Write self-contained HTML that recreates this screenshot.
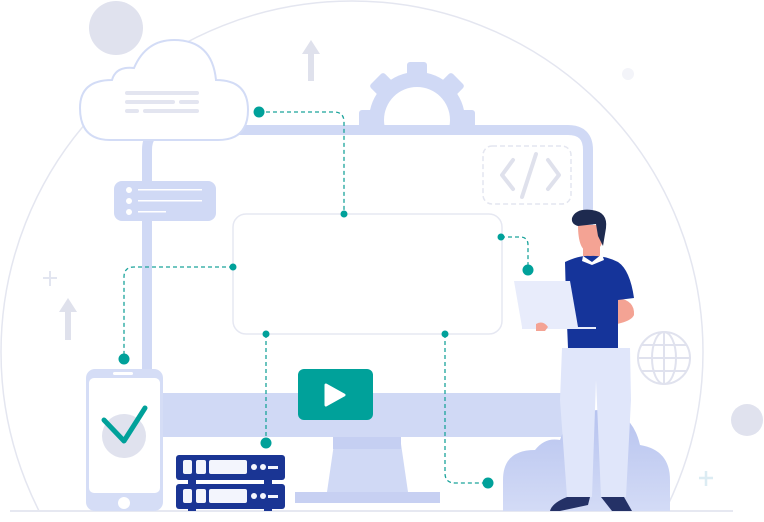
<!DOCTYPE html>
<html><head><meta charset="utf-8"><style>html,body{margin:0;padding:0;background:#fff;width:764px;height:522px;overflow:hidden}svg{display:block}</style></head>
<body>
<svg width="764" height="522" viewBox="0 0 764 522" xmlns="http://www.w3.org/2000/svg">
<defs>
<clipPath id="c"><rect x="0" y="0" width="764" height="511"/></clipPath>
<clipPath id="g"><rect x="340" y="40" width="160" height="87"/></clipPath>
<linearGradient id="cg" x1="0" y1="0" x2="0" y2="1"><stop offset="0" stop-color="#b7c3ef"/><stop offset="1" stop-color="#d3dbf6"/></linearGradient>
</defs>
<circle cx="352" cy="352" r="351" fill="none" stroke="#e4e6f0" stroke-width="1.5" clip-path="url(#c)"/>
<line x1="10" y1="511" x2="733" y2="511" stroke="#e6e8f1" stroke-width="2"/>
<circle cx="116" cy="28" r="27" fill="#e0e2ee"/>
<circle cx="747" cy="420" r="16" fill="#e0e2ee"/>
<circle cx="628" cy="74" r="6" fill="#f3f4f9"/>
<path d="M311 40 L320 54 L314 54 L314 81 L308 81 L308 54 L302 54Z" fill="#dfe1ec"/>
<path d="M68 298 L77 312 L71 312 L71 340 L65 340 L65 312 L59 312Z" fill="#dfe1ec"/>
<path d="M50 271 V286 M43 278 H57" stroke="#e2e5f0" stroke-width="2"/>
<path d="M706 471 V486 M699 478 H713" stroke="#dcecf3" stroke-width="2.5"/>
<!-- gear -->
<g clip-path="url(#g)">
<g fill="#d0d9f5">
<circle cx="417" cy="120" r="48"/>
<rect x="407" y="62" width="20" height="16" rx="3"/>
<rect x="407" y="62" width="20" height="16" rx="3" transform="rotate(-45 417 120)"/>
<rect x="407" y="62" width="20" height="16" rx="3" transform="rotate(45 417 120)"/>
<rect x="407" y="62" width="20" height="16" rx="3" transform="rotate(-90 417 120)"/>
<rect x="407" y="62" width="20" height="16" rx="3" transform="rotate(90 417 120)"/>
</g>
<circle cx="417" cy="120" r="33" fill="#fff"/>
</g>
<!-- monitor frame -->
<path d="M147 175 V150 Q147 130 167 130 H568 Q588 130 588 150 V400" fill="none" stroke="#d0d9f5" stroke-width="10"/>
<rect x="142" y="150" width="10" height="225" fill="#d0d9f5"/>
<rect x="160" y="393" width="433" height="44" fill="#d0d9f5"/>
<path d="M335 437 H400 L408 492 H327Z" fill="#d0d9f5"/>
<rect x="333" y="437" width="68" height="12" fill="#c5cff2"/>
<rect x="295" y="492" width="145" height="11" fill="#c7d0f2"/>
<!-- screen box -->
<rect x="233" y="214" width="269" height="120" rx="13" fill="#fff" stroke="#e6e8f2" stroke-width="1.5"/>
<!-- code box -->
<rect x="483" y="146" width="88" height="58" rx="9" fill="none" stroke="#e4e6f0" stroke-width="1.5" stroke-dasharray="5 3"/>
<path d="M513 160 L502 175 L513 189 M548 160 L559 175 L548 189 M536 154 L522 197" fill="none" stroke="#dfe1ec" stroke-width="4" stroke-linecap="round" stroke-linejoin="round"/>
<!-- cloud top -->
<path d="M110 140 Q80 140 80 108 Q80 80 112 80 Q116 66 134 68 Q146 40 174 40 Q212 40 216 80 Q248 80 248 110 Q248 140 218 140Z" fill="#fff" stroke="#d3dcf6" stroke-width="2"/>
<g fill="#e3e5f0"><rect x="125" y="91" width="74" height="4" rx="2"/><rect x="125" y="100" width="50" height="4" rx="2"/><rect x="179" y="100" width="20" height="4" rx="2"/><rect x="125" y="109" width="14" height="4" rx="2"/><rect x="143" y="109" width="56" height="4" rx="2"/></g>
<!-- card -->
<rect x="114" y="181" width="102" height="40" rx="8" fill="#d0d9f5"/>
<g fill="#fff"><circle cx="129" cy="190" r="3"/><circle cx="129" cy="201" r="3"/><circle cx="129" cy="212" r="3"/><rect x="138" y="189" width="64" height="1.5"/><rect x="138" y="200" width="64" height="1.5"/><rect x="138" y="211" width="28" height="1.5"/></g>
<!-- phone -->
<rect x="86" y="369" width="77" height="142" rx="9" fill="#d5ddf6"/>
<rect x="89" y="378" width="71" height="115" rx="5" fill="#fff"/>
<rect x="113" y="372" width="20" height="3" rx="1.5" fill="#fff"/>
<circle cx="124" cy="503" r="6" fill="#fff"/>
<circle cx="124" cy="436" r="22" fill="#e0e2ee"/>
<path d="M104 420 L124 441 L145 408" fill="none" stroke="#00a19a" stroke-width="5" stroke-linecap="round" stroke-linejoin="round"/>
<!-- video -->
<rect x="298" y="369" width="75" height="51" rx="6" fill="#00a19a"/>
<path d="M326 385 L344 395 L326 405Z" fill="#fff" stroke="#fff" stroke-width="3" stroke-linejoin="round"/>
<!-- servers -->
<g fill="#1a3594"><rect x="176" y="455" width="109" height="25" rx="3"/><rect x="176" y="484" width="109" height="25" rx="3"/><rect x="188" y="478" width="8" height="8"/><rect x="264" y="478" width="8" height="8"/><rect x="188" y="507" width="8" height="4"/><rect x="264" y="507" width="8" height="4"/></g>
<g fill="#f3f5fd"><rect x="183" y="460" width="9" height="14" rx="2"/><rect x="196" y="460" width="10" height="14" rx="2"/><rect x="209" y="460" width="38" height="14" rx="2"/><circle cx="254" cy="467" r="3"/><circle cx="263" cy="467" r="3"/><rect x="268" y="466" width="10" height="3"/>
<rect x="183" y="489" width="9" height="14" rx="2"/><rect x="196" y="489" width="10" height="14" rx="2"/><rect x="209" y="489" width="38" height="14" rx="2"/><circle cx="254" cy="496" r="3"/><circle cx="263" cy="496" r="3"/><rect x="268" y="495" width="10" height="3"/></g>
<!-- connectors -->
<g fill="none" stroke="#1aa39b" stroke-width="1.3" stroke-dasharray="4 3">
<path d="M259 112 H334 Q344 112 344 122 V214"/>
<path d="M233 267 H134 Q124 267 124 277 V359"/>
<path d="M501 237 H520 Q528 237 528 245 V270"/>
<path d="M266 334 V443"/>
<path d="M445 334 V473 Q445 483 455 483 H488"/>
</g>
<g fill="#00a19a"><circle cx="259" cy="112" r="5.5"/><circle cx="344" cy="214" r="3.5"/><circle cx="233" cy="267" r="3.5"/><circle cx="124" cy="359" r="5.5"/><circle cx="501" cy="237" r="3.5"/><circle cx="528" cy="270" r="5.5"/><circle cx="266" cy="334" r="3.5"/><circle cx="266" cy="443" r="5.5"/><circle cx="445" cy="334" r="3.5"/><circle cx="488" cy="483" r="5.5"/></g>
<!-- globe -->
<g fill="none" stroke="#e0e2ee" stroke-width="2"><circle cx="664" cy="358" r="26"/><ellipse cx="664" cy="358" rx="12" ry="26"/><path d="M664 332 V384 M638 358 H690 M642 345 H686 M642 371 H686"/></g>
<!-- cloud bottom right -->
<path d="M503 511 V480 Q503 450 535 450 Q545 437 560 440 Q570 410 600 410 Q632 410 640 445 Q670 450 670 480 V511Z" fill="url(#cg)"/>
<!-- man -->
<path d="M562 348 H630 L631 400 L626 497 H601 L596 380 L592 497 H567 L560 400Z" fill="#e0e6fa"/>
<path d="M567 497 H590 L588 505 L560 511 H550 Q552 503 567 497Z" fill="#243166"/>
<path d="M601 497 H624 L632 511 H612Z" fill="#243166"/>
<path d="M583 245 H600 V258 H583Z" fill="#f4a394"/>
<path d="M578 225 Q578 252 590 252 Q600 252 603 240 V225Z" fill="#f4a394"/>
<path d="M572 218 Q576 208 592 210 Q608 212 606 228 L603 246 L598 236 L596 224 L578 226 Q571 224 572 218Z" fill="#1e2a4f"/>
<path d="M617 298 Q635 300 634 315 Q630 325 590 327 L586 319 Q612 316 617 308Z" fill="#f4a394"/>
<path d="M565 262 Q580 255 590 256 Q604 255 618 262 Q630 270 634 298 L618 300 L618 348 H568 L566 300 Z" fill="#15349a"/>
<path d="M583 256 L592 262 L602 254 L604 260 L592 265 L582 261Z" fill="#fff"/>
<path d="M514 281 H570 L578 327 H522Z" fill="#e8ecfb"/>
<rect x="522" y="327" width="74" height="2" fill="#e8ecfb"/>
<path d="M536 324 Q543 320 548 327 L545 331 H536Z" fill="#f4a394"/>
</svg>
</body></html>
